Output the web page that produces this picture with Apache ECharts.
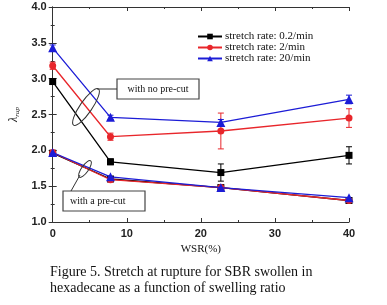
<!DOCTYPE html>
<html><head><meta charset="utf-8">
<script src="https://cdn.jsdelivr.net/npm/echarts@6/dist/echarts.min.js"></script>
<style>html,body{margin:0;padding:0;background:#fff}#c{width:387px;height:305px}</style>
</head><body><div id="c"></div>
<script>
var wsr = [0, 7.8, 22.7, 40];
var noCut02 = [2.96, 1.84, 1.69, 1.93];
var noCut2 = [3.18, 2.19, 2.27, 2.45];
var noCut20 = [3.43, 2.46, 2.39, 2.71];
var err02 = [0.04, 0.04, 0.12, 0.12];
var err2 = [0.05, 0.05, 0.25, 0.13];
var err20 = [0.04, 0.03, 0.04, 0.06];
var preCut02 = [1.96, 1.60, 1.48, 1.30];
var preCut2 = [1.97, 1.59, 1.48, 1.30];
var preCut20 = [1.97, 1.63, 1.48, 1.34];
var legendNames = ['stretch rate: 0.2/min', 'stretch rate: 2/min', 'stretch rate: 20/min'];
var colors = ['#000000', '#e8262b', '#1c1cd6'];
var symbols = ['rect', 'circle', 'triangle'];
var yTicks = ['1.0','1.5','2.0','2.5','3.0','3.5','4.0'];
var xTicks = ['0','10','20','30','40'];
var captionLines = ['Figure 5. Stretch at rupture for SBR swollen in', 'hexadecane as a function of swelling ratio'];

function pairs(ys){ return ys.map(function(v,i){ return [wsr[i], v]; }); }
function errData(ys, es){ return ys.map(function(v,i){ return [wsr[i], v-es[i], v+es[i]]; }); }

var chart = echarts.init(document.getElementById('c'), null, {renderer:'canvas'});
var axisCol = '#333';
var tickLbl = {fontFamily:'Liberation Sans, Arial', fontWeight:'bold', fontSize:11, color:'#222'};

function lineSeries(name, ys, idx, z){
  return {type:'line', name:name, data:pairs(ys), symbol:symbols[idx], symbolSize: idx===2?9:7,
    lineStyle:{color:colors[idx], width:1.3}, itemStyle:{color:colors[idx]}, z:z, animation:false};
}
function errSeries(ys, es, idx){
  return {type:'custom', data:errData(ys, es), z:1, silent:true, animation:false,
    renderItem:function(params, api){
      var x=api.value(0), lo=api.coord([x, api.value(1)]), hi=api.coord([x, api.value(2)]);
      var st={stroke:colors[idx], lineWidth:1};
      return {type:'group', children:[
        {type:'line', shape:{x1:lo[0],y1:lo[1],x2:hi[0],y2:hi[1]}, style:st},
        {type:'line', shape:{x1:lo[0]-3,y1:lo[1],x2:lo[0]+3,y2:lo[1]}, style:st},
        {type:'line', shape:{x1:hi[0]-3,y1:hi[1],x2:hi[0]+3,y2:hi[1]}, style:st}
      ]};
    }};
}

var option = {
  backgroundColor:'#fff',
  animation:false,
  grid:{left:52, right:38, top:7, bottom:83},
  legend:{show:true, data:legendNames, orient:'vertical', left:197, top:31, itemWidth:24, itemHeight:7, itemGap:0, padding:0,
    textStyle:{fontFamily:'Liberation Serif, Times New Roman', fontSize:11, lineHeight:11, color:'#111', padding:[0,0,0,-2]}},
  xAxis:[
    {type:'value', min:0, max:40, interval:10, position:'bottom',
     axisLine:{lineStyle:{color:axisCol}}, axisTick:{inside:true, length:4, lineStyle:{color:axisCol}},
     minorTick:{show:true, splitNumber:2, length:2, lineStyle:{color:axisCol}},
     splitLine:{show:false}, axisLabel:Object.assign({margin:6, formatter:function(v){return xTicks[v/10];}}, tickLbl),
     name:'WSR(%)', nameLocation:'middle', nameGap:22,
     nameTextStyle:{fontFamily:'Liberation Serif, Times New Roman', fontSize:11, color:'#111'}},
    {type:'value', min:0, max:40, interval:10, position:'top',
     axisLine:{lineStyle:{color:axisCol}}, axisTick:{inside:true, length:4, lineStyle:{color:axisCol}},
     minorTick:{show:true, splitNumber:2, length:2, lineStyle:{color:axisCol}},
     splitLine:{show:false}, axisLabel:{show:false}}
  ],
  yAxis:[
    {type:'value', min:1, max:4, interval:0.5, position:'left',
     axisLine:{show:true, lineStyle:{color:axisCol}}, axisTick:{show:true, inside:true, length:4, lineStyle:{color:axisCol}},
     minorTick:{show:true, splitNumber:2, length:2, lineStyle:{color:axisCol}},
     splitLine:{show:false}, axisLabel:Object.assign({margin:6, formatter:function(v){return yTicks[Math.round((v-1)*2)];}}, tickLbl),
     name:'{l|λ}{s|rup}', nameLocation:'middle', nameGap:32, nameRotate:90,
     nameTextStyle:{rich:{l:{fontFamily:'Liberation Serif', fontStyle:'italic', fontSize:12, color:'#222'},
                          s:{fontFamily:'Liberation Serif', fontStyle:'italic', fontSize:7, color:'#222', padding:[6,0,0,0]}}}},
    {type:'value', min:1, max:4, interval:0.5, position:'right',
     axisLine:{show:true, lineStyle:{color:axisCol}}, axisTick:{show:true, inside:true, length:4, lineStyle:{color:axisCol}},
     minorTick:{show:true, splitNumber:2, length:2, lineStyle:{color:axisCol}},
     splitLine:{show:false}, axisLabel:{show:false}}
  ],
  series:[
    errSeries(noCut02, err02, 0), errSeries(noCut2, err2, 1), errSeries(noCut20, err20, 2),
    lineSeries(legendNames[0], noCut02, 0, 3),
    lineSeries(legendNames[1], noCut2, 1, 4),
    lineSeries(legendNames[2], noCut20, 2, 5),
    lineSeries('pre-cut 0.2', preCut02, 0, 3),
    lineSeries('pre-cut 2', preCut2, 1, 4),
    lineSeries('pre-cut 20', preCut20, 2, 5)
  ],
  graphic:[
    {type:'rect', shape:{x:117, y:79, width:82, height:20}, style:{fill:'#fff', stroke:'#444', lineWidth:1.2}, z:10},
    {type:'text', x:158, y:89, style:{text:'with no pre-cut', fontFamily:'Liberation Serif', fontSize:10, fill:'#111', align:'center', verticalAlign:'middle'}, z:11},
    {type:'ellipse', x:86, y:107, rotation:0.97, shape:{cx:0, cy:0, rx:22, ry:6}, style:{fill:'none', stroke:'#333', lineWidth:1}, z:10},
    {type:'line', shape:{x1:97, y1:89, x2:117, y2:89}, style:{stroke:'#333', lineWidth:1}, z:10},
    {type:'rect', shape:{x:63, y:191, width:82, height:20}, style:{fill:'#fff', stroke:'#444', lineWidth:1.2}, z:10},
    {type:'text', x:70, y:201, style:{text:'with a pre-cut', fontFamily:'Liberation Serif', fontSize:10, fill:'#111', align:'left', verticalAlign:'middle'}, z:11},
    {type:'ellipse', x:85, y:169, rotation:0.96, shape:{cx:0, cy:0, rx:10, ry:3.5}, style:{fill:'none', stroke:'#333', lineWidth:1}, z:10},
    {type:'line', shape:{x1:80, y1:175, x2:71, y2:191}, style:{stroke:'#333', lineWidth:1}, z:10},
    {type:'text', x:50, y:272, style:{text:captionLines[0], fontFamily:'Liberation Serif', fontSize:14, fill:'#111', verticalAlign:'middle'}},
    {type:'text', x:50, y:288, style:{text:captionLines[1], fontFamily:'Liberation Serif', fontSize:14, fill:'#111', verticalAlign:'middle'}}
  ]
};
chart.setOption(option);
</script></body></html>
